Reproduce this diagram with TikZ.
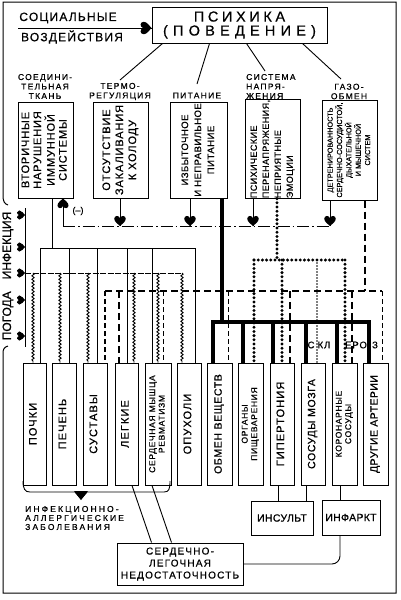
\documentclass[tikz,border=0pt]{standalone}
\usepackage{fontspec}
\setmainfont{Liberation Sans}[FakeBold=0.6]
\usepackage{graphicx}
\usetikzlibrary{decorations.pathmorphing}
\newcommand\fs[3]{\fontsize{#1}{#2}\selectfont\addfontfeatures{LetterSpace=#3}}
\newcommand\vtext[1]{\rotatebox{90}{\begin{tabular}{@{}c@{}}#1\end{tabular}}}
\newcommand\vtextl[1]{\rotatebox{90}{\begin{tabular}{@{}l@{}}#1\end{tabular}}}
\tikzset{
 bx/.style={draw, line width=1pt, inner sep=0pt},
 lbl/.style={font=\fs{8.5}{9.5}{15}, align=center, inner sep=0pt},
 ln/.style={line width=0.9pt},
 heavy/.style={line width=3.2pt},
 hdash/.style={line width=2.6pt, dash pattern=on 7pt off 4pt},
 mdash/.style={line width=1.4pt, dash pattern=on 5pt off 3pt},
 tdash/.style={line width=0.9pt, dash pattern=on 5pt off 3pt},
 fdash/.style={line width=0.8pt, dash pattern=on 6pt off 1.5pt},
 hdot/.style={line width=3.3pt, line cap=round, dash pattern=on 0pt off 4.2pt},
 tdot/.style={line width=1.8pt, line cap=round, dash pattern=on 0pt off 3pt},
 ddash/.style={line width=0.9pt, dash pattern=on 12pt off 3pt on 1.5pt off 3pt},
 wavy/.style={line width=0.9pt, decorate, decoration={snake, amplitude=1.1pt, segment length=3.5pt}},
 heart/.pic={\fill (0,0) .. controls (-1.5,-1.5) and (-4.8,-3.5) .. (-4.8,-6) .. controls (-4.8,-8.8) and (-1,-9.3) .. (0,-6.5) .. controls (1,-9.3) and (4.8,-8.8) .. (4.8,-6) .. controls (4.8,-3.5) and (1.5,-1.5) .. (0,0) -- cycle;}
}
\begin{document}
\begin{tikzpicture}[x=1pt,y=-1pt]
\useasboundingbox (0,0) rectangle (400,600);
% frame
\draw[line width=1pt] (8,205) .. controls (4.5,204) and (3,201) .. (3,196) -- (3,2) -- (396,2) -- (396,593) -- (3,593) -- (3,353) .. controls (3,349) and (4.5,347) .. (8,346);

% top
\node[bx, minimum width=175pt, minimum height=36pt, align=center, font=\fs{14.5}{14}{25}] (psy) at (239.5,25) {ПСИХИКА\\{\addfontfeatures{LetterSpace=36}(ПОВЕДЕНИЕ)}};
\node[font=\fs{12}{12}{10}, inner sep=0pt] (soc1) at (68,18) {СОЦИАЛЬНЫЕ};
\node[font=\fs{12}{12}{10}, inner sep=0pt] (soc2) at (72,37) {ВОЗДЕЙСТВИЯ};
\coordinate (socl) at (18,28);
\draw[ln] (socl) -- (socl -| psy.west);
\pic[rotate=90, scale=1.3] at (socl -| psy.west) {heart};

% labels
\node[lbl] (l1) at (45,86.5) {СОЕДИНИ-\\ТЕЛЬНАЯ\\ТКАНЬ};
\node[lbl] (l2) at (120,91.5) {ТЕРМО-\\РЕГУЛЯЦИЯ};
\node[lbl] (l3) at (197,95.5) {ПИТАНИЕ};
\node[lbl, align=left, anchor=west] (l4) at (246,86.5) {СИСТЕМА\\НАПРЯ-\\ЖЕНИЯ};
\node[lbl] (l5) at (349,91.5) {ГАЗО-\\ОБМЕН};
\coordinate (t1) at (120,80);
\coordinate (t2) at (197,84);
\coordinate (t3) at (265,71);
\coordinate (t4) at (341,79);
\draw[ln] ([xshift=11pt]psy.south west) -- (t1);
\draw[ln] ([xshift=58pt]psy.south west) -- (t2);
\draw[ln] ([xshift=95pt]psy.south west) -- (t3);
\draw[ln] ([xshift=151pt]psy.south west) -- (t4);

% middle boxes
\node[bx, minimum width=55pt, minimum height=96pt, font=\fs{11}{12}{8}] (b1) at (45.5,150) {\vtext{ВТОРИЧНЫЕ\\НАРУШЕНИЯ\\ИММУННОЙ\\СИСТЕМЫ}};
\node[bx, minimum width=55pt, minimum height=96pt, font=\fs{11}{13}{8}] (b2) at (120.5,150) {\vtext{ОТСУТСТВИЕ\\ЗАКАЛИВАНИЯ\\К ХОЛОДУ}};
\node[bx, minimum width=57pt, minimum height=96pt, font=\fs{9.5}{13}{5}] (b3) at (198.5,150) {\vtext{ИЗБЫТОЧНОЕ\\И НЕПРАВИЛЬНОЕ\\ПИТАНИЕ}};
\node[bx, minimum width=55pt, minimum height=98pt, font=\fs{9}{12}{5}] (b4) at (272.5,149) {\vtextl{ПСИХИЧЕСКИЕ\\ПЕРЕНАПРЯЖЕНИЯ,\\НЕПРИЯТНЫЕ\\ЭМОЦИИ}};
\node[bx, minimum width=55pt, minimum height=100pt, font=\fs{7.3}{9.3}{0}] (b5) at (349.5,150) {\vtext{ДЕТРЕНИРОВАННОСТЬ\\СЕРДЕЧНО-СОСУДИСТОЙ,\\ДЫХАТЕЛЬНОЙ\\И МЫШЕЧНОЙ\\СИСТЕМ}};

% bottom boxes
\tikzset{cb/.style={bx, minimum height=122pt, minimum width=#1, font=\fs{11}{11}{10}},
         cb2/.style={bx, minimum height=122pt, minimum width=#1, font=\fs{8.5}{9.5}{8}}}
\node[cb=23pt] (c1) at (34.5,424) {\vtext{ПОЧКИ}};
\node[cb=24pt] (c2) at (64,424) {\vtext{ПЕЧЕНЬ}};
\node[cb=24pt] (c3) at (95,424) {\vtext{СУСТАВЫ}};
\node[cb=23pt] (c4) at (126.5,424) {\vtext{ЛЕГКИЕ}};
\node[cb2=26pt] (c5) at (158,424) {\vtext{СЕРДЕЧНАЯ МЫШЦА\\РЕВМАТИЗМ}};
\node[cb=24pt] (c6) at (189,424) {\vtext{ОПУХОЛИ}};
\node[cb=25pt, font=\fs{10.5}{11}{6}] (c7) at (219.5,424) {\vtext{ОБМЕН ВЕЩЕСТВ}};
\node[cb2=25pt] (c8) at (250.5,424) {\vtext{ОРГАНЫ\\ПИЩЕВАРЕНИЯ}};
\node[cb=24pt] (c9) at (282,424) {\vtext{ГИПЕРТОНИЯ}};
\node[cb=24pt, font=\fs{10.5}{11}{6}] (c10) at (313,424) {\vtext{СОСУДЫ МОЗГА}};
\node[cb2=25pt] (c11) at (344.5,424) {\vtext{КОРОНАРНЫЕ\\СОСУДЫ}};
\node[cb=25pt, font=\fs{10.5}{11}{4}] (c12) at (375.5,424) {\vtext{ДРУГИЕ АРТЕРИИ}};

% feedback dash-dot
\coordinate (dd1) at (63,226);
\coordinate (dd2) at (120,226);
\coordinate (dd3) at (190,226);
\coordinate (dd4) at (253,226);
\coordinate (dd5) at (330,226);
\draw[ddash] (dd1) -- (dd5);
\draw[ln] (dd1) -- (dd1 |- b1.south);
\pic[rotate=180, scale=1.15] at (dd1 |- b1.south) {heart};
\node[font=\fs{9}{9}{0}, inner sep=0pt] (minus) at (78,211) {(–)};
\foreach \c/\b in {dd2/b2,dd3/b3,dd4/b4,dd5/b5}{
  \draw[ln] (\c |- \b.south) -- (\c);
  \pic[scale=1.2] at (\c) {heart};
}

% left inputs
\node[rotate=90, font=\fs{12}{12}{0}, inner sep=0pt] (pog) at (8,276) {ПОГОДА\hspace{12pt}ИНФЕКЦИЯ};
\coordinate (wtop) at (25,208);
\coordinate (wbot) at (25,347);
\draw[ln] (wtop) -- (wbot);
\foreach \y in {215,247,273,300,336} \pic[rotate=90, scale=0.95] at (25,\y) {heart};

% immune bus
\coordinate (im0) at (52,248);
\draw[ln] (im0 |- b1.south) -- (im0);
\draw[ln] (40,248) coordinate (imL) -- (195,248) coordinate (imR);
\foreach \x/\n in {40/c1,69/c2,97/c3,127/c4,152/c5,195/c6}{
  \path (\x,248) coordinate (tmp);
  \draw[ln] (tmp) -- (tmp |- \n.north);
}

% infection (wavy) bus
\draw[fdash] (25,273) coordinate (wfL) -- (182,273) coordinate (wfR);
\foreach \x/\n in {33/c1,60/c2,88/c3,134/c4,158/c5,182/c6}{
  \path (\x,273) coordinate (tmp);
  \draw[wavy] (tmp) -- (tmp |- \n.north);
}

% heavy dashed bus
\coordinate (hd0) at (365,291);
\draw[hdash] (105,291) coordinate (hdL) -- (382,291) coordinate (hdR);
\draw[hdash] (hd0 |- b5.south) -- (hd0);
\foreach \x/\n/\s in {105/c3/mdash,119/c4/hdash,163/c5/tdash,228/c7/tdash,290/c9/hdash,352/c11/hdash,382/c12/tdash}{
  \path (\x,291) coordinate (tmp);
  \draw[\s] (tmp) -- (tmp |- \n.north);
}

% dotted bus
\coordinate (dt0) at (277,260);
\draw[hdot] (dt0 |- b4.south) -- (dt0);
\draw[hdot] (254,260) coordinate (dtL) -- (345,260) coordinate (dtR);
\foreach \x/\n/\s in {254/c8/hdot,282/c9/hdot,317/c10/tdot,345/c11/hdot}{
  \path (\x,260) coordinate (tmp);
  \draw[\s] (tmp) -- (tmp |- \n.north);
}

% heavy solid bus
\coordinate (hs0) at (222,322);
\draw[heavy] (hs0 |- b3.south) -- (hs0);
\path (213,322) coordinate (hsL) (369,322) coordinate (hsR);
\draw[heavy] (hsL |- c7.north) -- (hsL) -- (hsR) -- (hsR |- c12.north);
\foreach \x/\n in {243/c8,273/c9,306/c10,337/c11}{
  \path (\x,322) coordinate (tmp);
  \draw[heavy] (tmp) -- (tmp |- \n.north);
}
\node[font=\fs{9.5}{9}{10}, inner sep=0.5pt] (sk1) at (311,345) {С};
\node[font=\fs{9.5}{9}{10}, inner sep=0.5pt] (sk2) at (324,345) {КЛ};
\node[font=\fs{9.5}{9}{10}, inner sep=0.5pt] (sk3) at (356,345) {ЕРО};
\node[font=\fs{9.5}{9}{10}, inner sep=0.5pt] (sk4) at (375,345) {З};

% bottom
\draw[line width=0.9pt] (23,481) .. controls (23,489) and (25,492) .. (30,492) -- (75,492) -- (81,499) -- (87,492) -- (164,492) .. controls (169,492) and (170,489) .. (170,481);
\fill (74,491) -- (88,491) -- (81,500) -- cycle;
\node[font=\fs{8.5}{9}{25}, align=left, anchor=west, inner sep=0pt] (inf) at (25,518) {ИНФЕКЦИОННО-\\АЛЛЕРГИЧЕСКИЕ\\ЗАБОЛЕВАНИЯ};

\node[bx, minimum width=62pt, minimum height=34pt, font=\fs{10.5}{10.5}{3}] (ins) at (282,518) {ИНСУЛЬТ};
\node[bx, minimum width=58pt, minimum height=35pt, font=\fs{10.5}{10.5}{3}] (infk) at (351,517.5) {ИНФАРКТ};
\node[bx, minimum width=126pt, minimum height=42pt, align=center, font=\fs{10}{12}{12}] (sln) at (180,564) {СЕРДЕЧНО-\\ЛЕГОЧНАЯ\\НЕДОСТАТОЧНОСТЬ};

\draw[ln] ([xshift=-4pt]c9.south) -- ([xshift=-4pt]c9.south |- ins.north);
\draw[ln] ([xshift=-7pt]c10.south) -- ([xshift=-7pt]c10.south |- ins.north);
\draw[ln] ([xshift=-4.5pt]c11.south) -- ([xshift=-4.5pt]c11.south |- infk.north);
\draw[ln] ([xshift=5.5pt]c4.south) -- ([xshift=35pt]sln.north west);
\draw[ln] ([xshift=-6pt]c5.south) -- ([xshift=55pt]sln.north west);
\draw[ln, rounded corners=8pt] ([xshift=-11pt]infk.south) |- (sln.east);
\end{tikzpicture}
\end{document}
